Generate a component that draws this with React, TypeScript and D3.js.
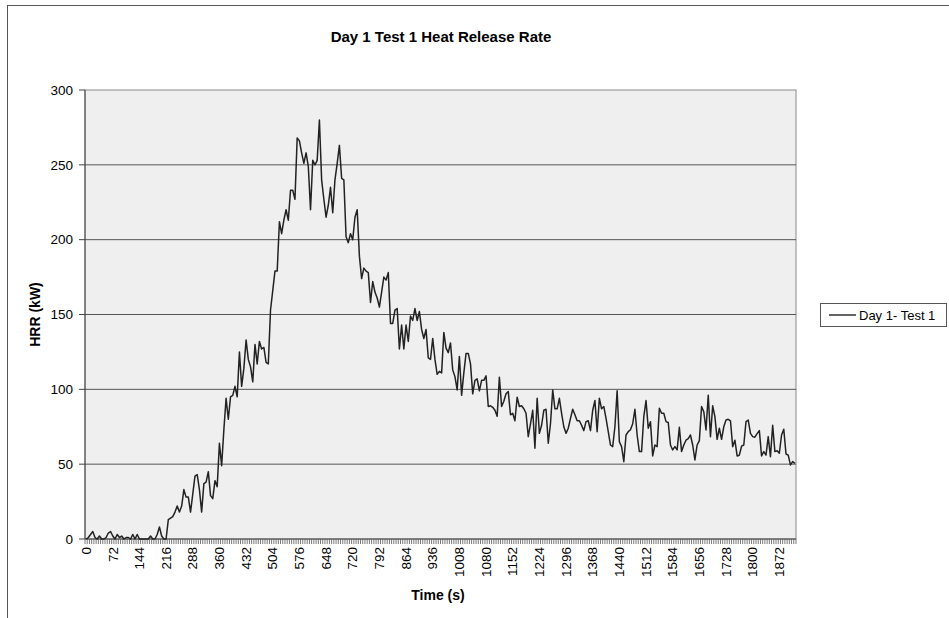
import * as React from "react";
import * as d3 from "d3";

// HRR readings (kW), one every 6 s
const hrr = [
  0, 1, 3, 5, 1, 0, 2, 0, 0, 1, 4, 5, 2, 0, 3, 1, 2, 0, 1, 1,
  0, 3, 0, 3, 0, 0, 0, 0, 0, 2, 0, 0, 3, 8, 2, 0, 0, 13, 14, 15,
  18, 22, 18, 22, 33, 28, 28, 18, 30, 42, 43, 33, 18, 37, 38, 45, 29, 27, 39, 35,
  64, 49, 73, 94, 80, 95, 96, 102, 95, 125, 102, 114, 133, 120, 115, 105, 130, 117, 132, 127,
  128, 118, 117, 153, 166, 179, 179, 212, 204, 213, 220, 213, 233, 233, 227, 268, 266, 258, 251, 258,
  249, 220, 253, 250, 253, 280, 240, 227, 215, 223, 235, 218, 240, 251, 263, 241, 240, 202, 198, 204,
  200, 215, 220, 189, 174, 181, 179, 178, 158, 172, 165, 161, 155, 165, 175, 173, 178, 144, 144, 153,
  154, 127, 143, 127, 143, 132, 149, 146, 154, 146, 152, 140, 134, 140, 121, 120, 134, 120, 110, 112,
  111, 138, 127.5, 124.5, 131, 113, 108.5, 99.6, 122, 96, 111, 124, 124, 117, 97, 106, 107, 99, 106, 106,
  109, 88.5, 89, 88, 86, 82, 108, 88.5, 92, 97, 98.5, 83, 84, 79, 94.7, 88.5, 89, 87, 84, 68.4,
  77, 86, 60.6, 94, 70.6, 76, 86, 86.7, 64, 77, 99.6, 87, 87, 94, 84, 75, 70.6, 74, 80.6, 86.7,
  83, 79, 79, 76, 72.4, 78.4, 79, 72.4, 86, 92.5, 71.7, 94, 87, 88.5, 80.6, 71.7, 62.8, 61.7, 75, 99,
  65, 61.7, 51.7, 69.5, 71.7, 73, 77, 86.7, 69.5, 58.4, 58.4, 81.8, 92.5, 74, 78.4, 55.5, 62.8, 61.7, 87.3, 84,
  84, 78.4, 77.8, 62.8, 59.5, 61.7, 59.5, 74.6, 58.4, 62.8, 66, 67, 69.5, 62.8, 52.8, 62.8, 65.7, 88.5, 85, 72.9,
  96, 68.4, 89, 81.8, 66.6, 74, 66.6, 75, 79.5, 80, 79, 61.7, 66, 55.5, 56, 62, 62.8, 78.4, 79.5, 70.6,
  68.4, 68, 70.4, 72.4, 55.5, 58.4, 56, 68.4, 55, 76, 58.4, 59, 57.3, 69.5, 73.3, 56.8, 56, 49.5, 51.7, 50.5,
];
const times = hrr.map((_, i) => i * 6);
const xTickLabels = [
  "0", "72", "144", "216", "288", "360", "432", "504", "576", "648", "720", "792", "864", "936",
  "1008", "1080", "1152", "1224", "1296", "1368", "1440", "1512", "1584", "1656", "1728", "1800", "1872",
];
const yTicks = [0, 50, 100, 150, 200, 250, 300];
const seriesName = "Day 1- Test 1";
const title = "Day 1 Test 1 Heat Release Rate";

const W = 949;
const H = 618;
const plot = { left: 85, right: 796, top: 90, bottom: 539 };
const font = "'Liberation Sans', Arial, sans-serif";

export default function App() {
  const x = d3.scaleBand<number>().domain(times).range([plot.left, plot.right]);
  const y = d3.scaleLinear().domain([0, 300]).range([plot.bottom, plot.top]);
  const cx = (t: number) => (x(t) as number) + x.bandwidth() / 2;

  const line = d3
    .line<number>()
    .x((d, i) => cx(times[i]))
    .y((d) => y(d));

  const boundaries = d3.range(times.length + 1).map((i) => plot.left + i * x.bandwidth());

  return (
    <div style={{ position: "fixed", left: 0, top: 0 }}>
      <svg width={W} height={H} style={{ display: "block", fontFamily: font }}>
        <rect x={0} y={0} width={W} height={H} fill="#fff" />
        <rect x={7.5} y={5.5} width={W + 20} height={H + 20} fill="none" stroke="#555" />
        <text x={441} y={42} textAnchor="middle" fontSize={15} fontWeight="bold" fill="#000">
          {title}
        </text>

        {/* plot area */}
        <rect
          x={plot.left}
          y={plot.top}
          width={plot.right - plot.left}
          height={plot.bottom - plot.top}
          fill="#efefef"
          stroke="#8a8a8a"
        />
        {yTicks.slice(1, -1).map((v) => (
          <line key={v} x1={plot.left} x2={plot.right} y1={y(v)} y2={y(v)} stroke="#555" />
        ))}

        {/* y axis */}
        <line x1={plot.left} x2={plot.left} y1={plot.top} y2={plot.bottom} stroke="#444" />
        {yTicks.map((v) => (
          <g key={v}>
            <line x1={plot.left - 6} x2={plot.left} y1={y(v)} y2={y(v)} stroke="#444" />
            <text x={plot.left - 12} y={y(v)} dy="0.35em" textAnchor="end" fontSize={13.5} fill="#000">
              {v}
            </text>
          </g>
        ))}
        <text
          transform={`translate(40,${(plot.top + plot.bottom) / 2}) rotate(-90)`}
          textAnchor="middle"
          fontSize={14}
          fontWeight="bold"
        >
          HRR (kW)
        </text>

        {/* x axis */}
        {boundaries.map((bx, i) => (
          <line key={i} x1={bx} x2={bx} y1={plot.bottom} y2={plot.bottom + 5} stroke="#7a7a7a" />
        ))}
        <line x1={plot.left} x2={plot.right} y1={plot.bottom} y2={plot.bottom} stroke="#444" />
        {xTickLabels.map((lab) => (
          <text
            key={lab}
            transform={`translate(${cx(+lab)},${plot.bottom + 8}) rotate(-90)`}
            textAnchor="end"
            dy="0.35em"
            fontSize={13.5}
            fill="#000"
          >
            {lab}
          </text>
        ))}
        <text x={438} y={600} textAnchor="middle" fontSize={14} fontWeight="bold">
          Time (s)
        </text>

        <path d={line(hrr) ?? ""} fill="none" stroke="#222" strokeWidth={1.5} strokeLinejoin="round" />

        {/* legend */}
        <rect x={820.5} y={303.5} width={126} height={23} fill="#fff" stroke="#555" />
        <line x1={829} x2={856} y1={315} y2={315} stroke="#222" strokeWidth={1.4} />
        <text x={859} y={315} dy="0.35em" fontSize={13} fill="#000">
          {seriesName}
        </text>
      </svg>
    </div>
  );
}
